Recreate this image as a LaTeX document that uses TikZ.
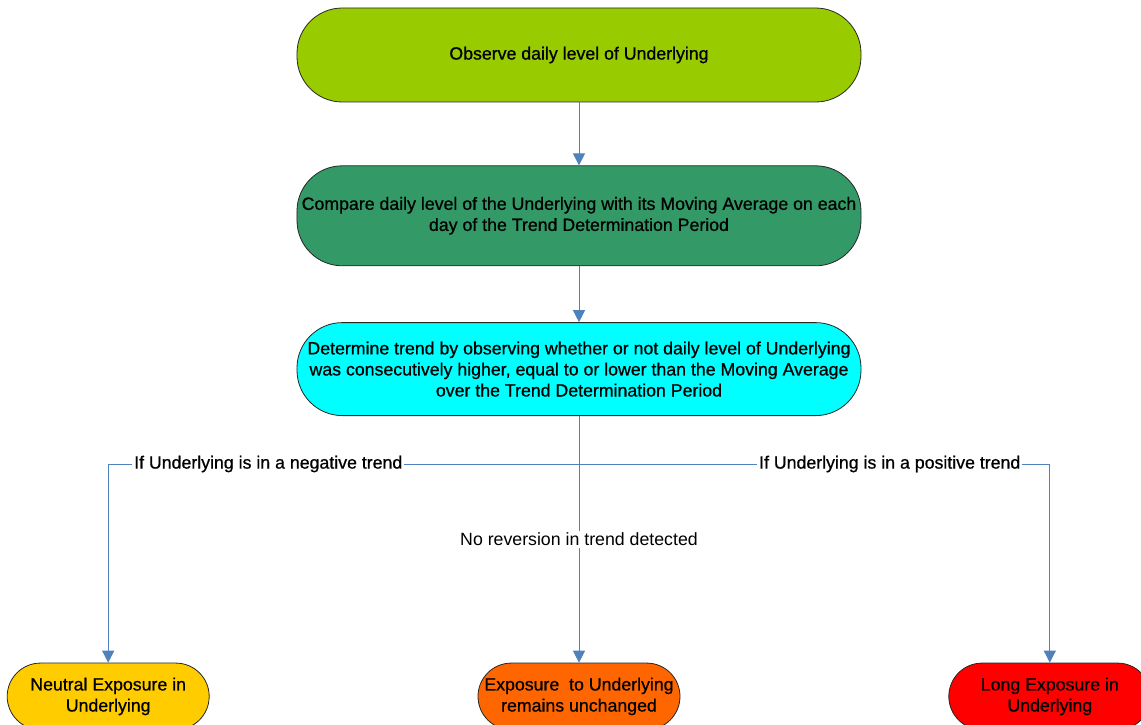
\documentclass[tikz,border=0pt]{standalone}
\usepackage{fontspec}
\setmainfont{Liberation Sans}
\newfontfamily\heavyfont{Liberation Sans}[FakeBold=0.7]
\usepackage{tikz}
\usetikzlibrary{positioning, arrows.meta}

\definecolor{obsgreen}{RGB}{153,204,0}
\definecolor{cmpgreen}{RGB}{51,153,102}
\definecolor{trendcyan}{RGB}{0,255,255}
\definecolor{neutralyellow}{RGB}{255,204,0}
\definecolor{keeporange}{RGB}{255,102,0}
\definecolor{longred}{RGB}{255,0,0}
\definecolor{flowblue}{RGB}{79,129,189}

\begin{document}
\begin{tikzpicture}
        \tikzstyle{every node}=[font=\fontsize{13.3}{15.8}\selectfont]
        \tikzstyle{stage}=[draw=black!85, line width=0.6pt, rectangle, rounded corners=34pt, minimum width=423pt, minimum height=70.5pt, align=center, inner sep=0pt, font=\heavyfont\fontsize{13.3}{15.8}\selectfont]
        \tikzstyle{outcome}=[stage, rounded corners=25pt, minimum width=151.5pt, minimum height=50pt]
        \tikzstyle{flow}=[draw=flowblue, line width=0.75pt, -{Triangle[length=9pt, width=9pt]}]
        \tikzstyle{tag}=[fill=white, inner sep=1.5pt]

        \useasboundingbox (-434.25pt,-501.75pt) rectangle (421.5pt,41.25pt);

        \node   (observe)   [stage, fill=obsgreen] {Observe daily level of Underlying};
        \node   (compare)   [stage, fill=cmpgreen, minimum height=75pt, below=47.25pt of observe]
                {Compare daily level of the Underlying with its Moving Average on each\\day of the Trend Determination Period};
        \node   (determine) [stage, fill=trendcyan, minimum height=69.75pt, below=42pt of compare]
                {Determine trend by observing whether or not daily level of Underlying\\was consecutively higher, equal to or lower than the Moving Average\\over the Trend Determination Period};
        \node   (unchanged) [outcome, fill=keeporange, below=185pt of determine] {Exposure~ to Underlying\\remains unchanged};
        \node   (neutral)   [outcome, fill=neutralyellow, left=201pt of unchanged] {Neutral Exposure in\\Underlying};
        \node   (long)      [outcome, fill=longred, right=201pt of unchanged] {Long Exposure in\\Underlying};

        \coordinate [below=36pt of determine.south] (split);

        \draw[flow] (observe) -- (compare);
        \draw[flow] (compare) -- (determine);
        \draw[flow] (determine) -- node[tag] {No reversion in trend detected} (unchanged);
        \draw[flow] (split) -| node[tag, pos=0.33, font=\heavyfont\fontsize{13.3}{15.8}\selectfont] {If Underlying is in a negative trend} (neutral);
        \draw[flow] (split) -| node[tag, pos=0.33, font=\heavyfont\fontsize{13.3}{15.8}\selectfont] {If Underlying is in a positive trend} (long);

    \end{tikzpicture}
\end{document}
